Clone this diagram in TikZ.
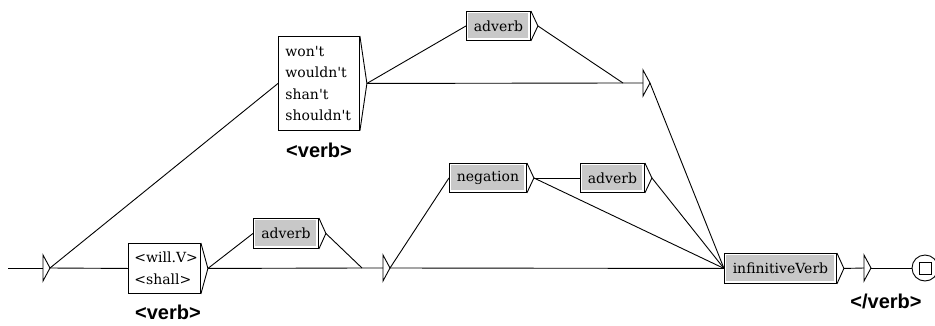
\documentclass[tikz,border=0pt]{standalone}
\usepackage{fontspec}
\newfontfamily\boxfont{DejaVu Serif}[Ligatures=TeXOff]
\newfontfamily\labelfont{Liberation Sans}
\usetikzlibrary{calc}
\definecolor{boxgrey}{RGB}{200,200,200}
\tikzset{
  box/.style={draw, fill=white, inner sep=0pt, anchor=north west,
    font=\boxfont\fontsize{14}{21.5}\selectfont},
  wbox/.style={box, align=left, inner xsep=7pt},
  gbox/.style={box, align=center,
    path picture={\fill[boxgrey]
      ([shift={(2pt,-2pt)}]path picture bounding box.north west) rectangle
      ([shift={(-2pt,2pt)}]path picture bounding box.south east);}},
  lbl/.style={font=\labelfont\bfseries\fontsize{20}{24}\selectfont, anchor=base, inner sep=0pt},
}
\newcommand{\boxtip}[1]{%
  \coordinate (#1o) at ($(#1.east)+(7,0)$);
  \draw (#1.north east) -- (#1o) -- (#1.south east);}
\newcommand{\etri}[2]{% name, position
  \coordinate (#1) at #2;
  \coordinate (#1o) at ($(#1)+(7,0)$);
  \draw ($(#1)+(0,-13)$) -- ($(#1)+(0,13)$) -- (#1o) -- cycle;}
\begin{document}
\begin{tikzpicture}[x=1pt, y=-1pt, line width=0.9pt]
\useasboundingbox (0,0) rectangle (935,325);

% boxes
\node[wbox, text width=60pt, inner xsep=6pt, minimum height=50pt] (will) at (128,243) {<will.V>\\<shall>};
\node[wbox, text width=67pt, minimum height=94pt] (wont) at (278,36) {won't\\wouldn't\\shan't\\shouldn't};
\node[gbox, minimum width=64pt, minimum height=29pt] (adv1) at (466,11) {adverb};
\node[gbox, minimum width=65pt, minimum height=30pt] (adv2) at (253,218) {adverb};
\node[gbox, minimum width=77pt, minimum height=29pt] (neg) at (449,163) {negation};
\node[gbox, minimum width=64pt, minimum height=29pt] (adv3) at (580,163) {adverb};
\node[gbox, minimum width=112pt, minimum height=30pt] (inf) at (724,253) {infinitiveVerb};

\boxtip{will}
\boxtip{wont}
\boxtip{adv1}
\boxtip{adv2}
\boxtip{neg}
\boxtip{adv3}
\boxtip{inf}

% empty transitions (triangles)
\etri{e0}{(43,268)}
\etri{e2}{(383,268)}
\etri{e3}{(643,83)}
\etri{e4}{(864,268)}

% final state
\node[draw, circle, minimum size=26pt, inner sep=0pt, fill=white] (fin) at (925,268) {};
\node[draw, minimum size=12pt, inner sep=0pt] (finsq) at (fin.center) {};

% join points
\coordinate (start) at (8,268);
\coordinate (j2) at (362,268);
\coordinate (j3) at (623,83);

% connectors
\draw (start) -- (e0);
\draw (e0o) -- (will.west);
\draw (e0o) -- (wont.west);
\draw (willo) -- (j2) -- (e2);
\draw (willo) -- (adv2.west);
\draw (adv2o) -- (j2);
\draw (e2o) -- (inf.west);
\draw (e2o) -- (neg.west);
\draw (nego) -- (adv3.west);
\draw (nego) -- (inf.west);
\draw (adv3o) -- (inf.west);
\draw (wonto) -- (j3) -- (e3);
\draw (wonto) -- (adv1.west);
\draw (adv1o) -- (j3);
\draw (e3o) -- (inf.west);
\draw (info) -- (e4);
\draw (e4o) -- (fin.west);

% output labels
\node[lbl] (v1) at (168,319) {<verb>};
\node[lbl] (v2) at (319,157) {<verb>};
\node[lbl] (v3) at (886,308) {</verb>};
\end{tikzpicture}
\end{document}
